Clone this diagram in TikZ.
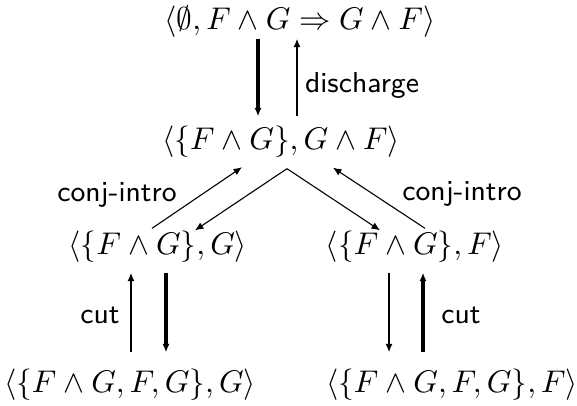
\documentclass[tikz,border=0pt]{standalone}
\usepackage{amssymb}
\usetikzlibrary{arrows.meta,calc}
\tikzset{
  judg/.style={inner sep=0pt, outer sep=0pt},
  rulelabel/.style={font=\fontsize{9.2}{11}\sffamily, inner sep=0pt},
  tip/.style={-{Latex[length=2.7pt,width=2.3pt]}},
  heavy/.style={tip, line width=1.0pt},
  medium/.style={tip, line width=0.85pt},
  light/.style={tip, line width=0.35pt},
}
\begin{document}
\begin{tikzpicture}[x=0.3189pt,y=-0.3189pt]
  \useasboundingbox (0,0) rectangle (577,405);

  % judgements
  \node[judg] (top) at (300,22)  {$\langle\emptyset, F\wedge G \Rightarrow G\wedge F\rangle$};
  \node[judg] (mid) at (281,142) {$\langle\{F\wedge G\}, G\wedge F\rangle$};
  \node[judg] (jl)  at (158,247) {$\langle\{F\wedge G\}, G\rangle$};
  \node[judg] (jr)  at (415,247) {$\langle\{F\wedge G\}, F\rangle$};
  \node[judg] (jbl) at (130,385) {$\langle\{F\wedge G, F, G\}, G\rangle$};
  \node[judg] (jbr) at (452,385) {$\langle\{F\wedge G, F, G\}, F\rangle$};

  % rule names
  \node[rulelabel] (ldis)  at (362,85)  {discharge};
  \node[rulelabel] (lconl) at (117,195) {conj-intro};
  \node[rulelabel] (lconr) at (462,194) {conj-intro};
  \node[rulelabel] (lcutl) at (100,315) {cut};
  \node[rulelabel] (lcutr) at (461,315) {cut};

  % x positions of the vertical arrows
  \coordinate (xa) at (258,0);
  \coordinate (xb) at (297,0);
  \coordinate (xc) at (131,0);
  \coordinate (xd) at (166,0);
  \coordinate (xe) at (389,0);
  \coordinate (xf) at (423,0);

  % top <-> middle
  \draw[heavy]  ($(top.south -| xa)+(0,1)$) -- ($(mid.north -| xa)+(0,-10)$);
  \draw[medium] ($(mid.north -| xb)+(0,-10)$) -- ($(top.south -| xb)+(0,1)$);

  % left branch
  \draw[medium] ($(jbl.north -| xc)+(0,-17)$) -- ($(jl.south -| xc)+(0,10)$);
  \draw[heavy]  ($(jl.south -| xd)+(0,10)$) -- ($(jbl.north -| xd)+(0,-17)$);

  % right branch
  \draw[medium] ($(jr.south -| xe)+(0,10)$) -- ($(jbr.north -| xe)+(0,-17)$);
  \draw[heavy]  ($(jbr.north -| xf)+(0,-17)$) -- ($(jr.south -| xf)+(0,10)$);

  % diagonals
  \coordinate (apex) at ($(mid.south)+(6,11)$);
  \draw[light] ($(jl.north)+(-6,-3)$) -- ($(mid.south)+(-39,9.5)$);
  \draw[light] (apex) -- ($(jl.north)+(37,-1)$);
  \draw[light] (apex) -- ($(jr.north)+(-35,-1)$);
  \draw[light] ($(jr.north)+(10,-3)$) -- ($(mid.south)+(52,10)$);
\end{tikzpicture}
\end{document}
